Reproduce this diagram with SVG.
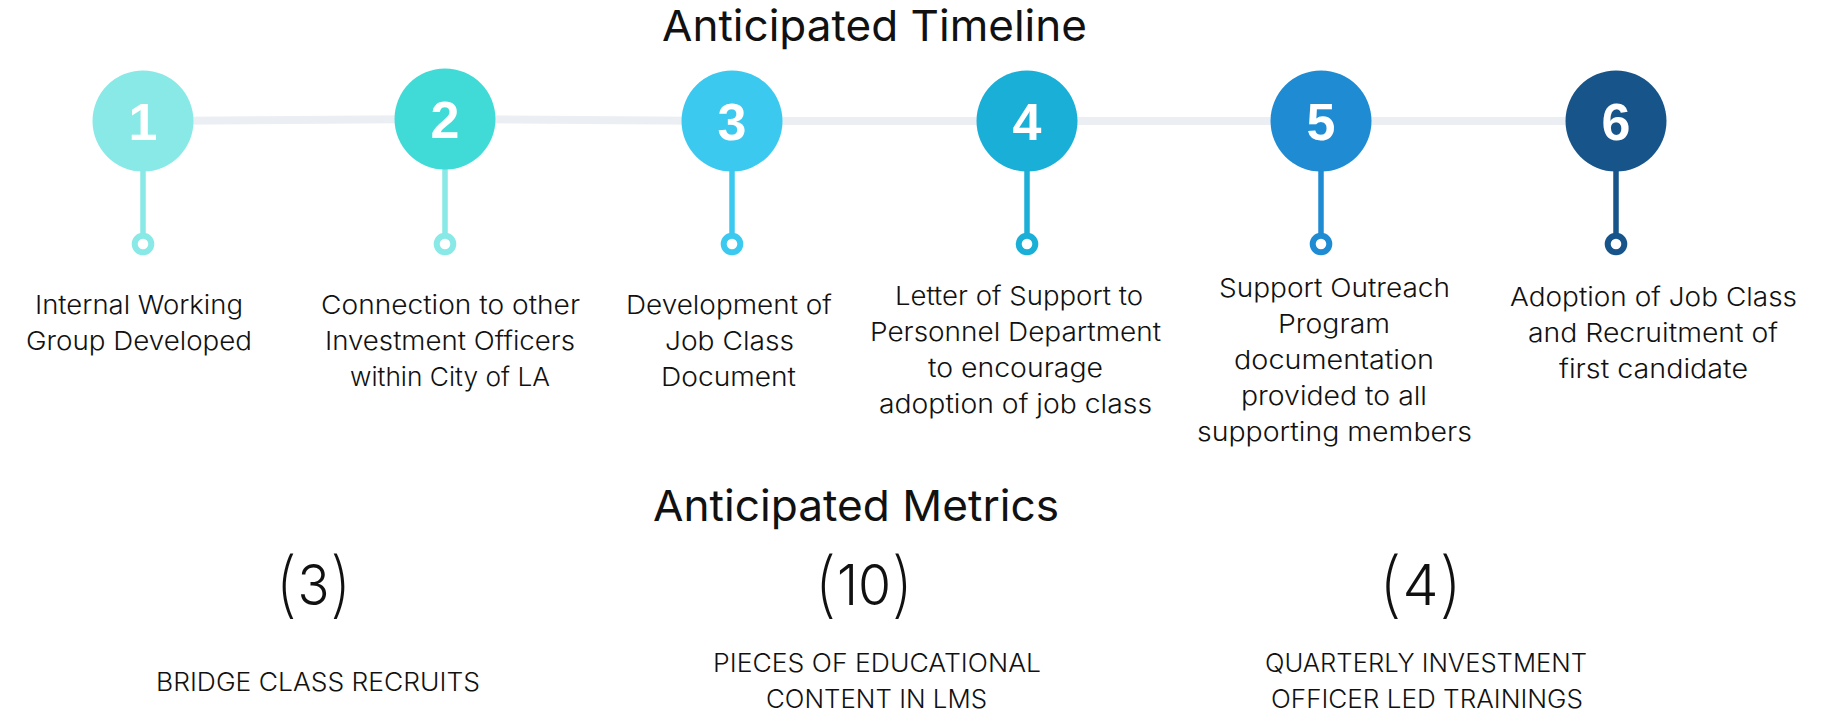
<svg xmlns="http://www.w3.org/2000/svg" width="1829" height="716" viewBox="0 0 1829 716">
  <style>
    .title { font-family: Inter, "Open Sans", "Liberation Sans", sans-serif; font-size: 43px; font-weight: 400; fill: #111111; }
    .num { font-family: "Liberation Sans", Arial, sans-serif; font-size: 52px; font-weight: 700; fill: #ffffff; text-anchor: middle; }
    .lbl { font-family: Inter, "Open Sans", "Liberation Sans", sans-serif; font-size: 26px; font-weight: 300; fill: #111111; }
    .metric { font-family: Inter, "Open Sans", "Liberation Sans", sans-serif; font-size: 56px; font-weight: 300; fill: #111111; }
    .metric .paren { font-size: 72px; font-weight: 200; }
    .mlbl { font-family: Inter, "Open Sans", "Liberation Sans", sans-serif; font-size: 25px; font-weight: 300; fill: #111111; }
    .track { fill: none; stroke: #ebeff3; stroke-width: 8; stroke-linejoin: round; }
    .stem { stroke-width: 5.5; }
    .ring { fill: #ffffff; stroke-width: 6; }
  </style>

  <text class="title" x="662" y="41" textLength="425" lengthAdjust="spacingAndGlyphs">Anticipated Timeline</text>

  <!-- timeline track behind the step circles -->
  <g id="connectors">
    <polyline class="track" points="143,121 445,119 732,121 1027,121 1321,121 1616,121"/>
  </g>

  <g id="step-1">
    <line class="stem" x1="143" y1="168" x2="143" y2="236" stroke="#88e9e6"/>
    <circle class="ring" cx="143" cy="244" r="8.3" stroke="#88e9e6"/>
    <circle cx="143" cy="121" r="50.5" fill="#88e9e6"/>
    <text class="num" x="143" y="139.5">1</text>
    <text class="lbl" x="35" y="314" textLength="208" lengthAdjust="spacingAndGlyphs">Internal Working</text>
    <text class="lbl" x="26" y="350" textLength="226" lengthAdjust="spacingAndGlyphs">Group Developed</text>
  </g>

  <g id="step-2">
    <line class="stem" x1="445" y1="166" x2="445" y2="236" stroke="#88e9e6"/>
    <circle class="ring" cx="445" cy="244" r="8.3" stroke="#88e9e6"/>
    <circle cx="445" cy="119" r="50.5" fill="#40dbd6"/>
    <text class="num" x="445" y="137.5">2</text>
    <text class="lbl" x="321" y="314" textLength="259" lengthAdjust="spacingAndGlyphs">Connection to other</text>
    <text class="lbl" x="325" y="350" textLength="250" lengthAdjust="spacingAndGlyphs">Investment Officers</text>
    <text class="lbl" x="350" y="386" textLength="200" lengthAdjust="spacingAndGlyphs">within City of LA</text>
  </g>

  <g id="step-3">
    <line class="stem" x1="732" y1="168" x2="732" y2="236" stroke="#3cc9f0"/>
    <circle class="ring" cx="732" cy="244" r="8.3" stroke="#3cc9f0"/>
    <circle cx="732" cy="121" r="50.5" fill="#3cc9f0"/>
    <text class="num" x="732" y="139.5">3</text>
    <text class="lbl" x="626" y="314" textLength="206" lengthAdjust="spacingAndGlyphs">Development of</text>
    <text class="lbl" x="665" y="350" textLength="129" lengthAdjust="spacingAndGlyphs">Job Class</text>
    <text class="lbl" x="661" y="386" textLength="135" lengthAdjust="spacingAndGlyphs">Document</text>
  </g>

  <g id="step-4">
    <line class="stem" x1="1027" y1="168" x2="1027" y2="236" stroke="#1aafd7"/>
    <circle class="ring" cx="1027" cy="244" r="8.3" stroke="#1aafd7"/>
    <circle cx="1027" cy="121" r="50.5" fill="#1aafd7"/>
    <text class="num" x="1027" y="139.5">4</text>
    <text class="lbl" x="895" y="305" textLength="248" lengthAdjust="spacingAndGlyphs">Letter of Support to</text>
    <text class="lbl" x="870" y="341" textLength="291" lengthAdjust="spacingAndGlyphs">Personnel Department</text>
    <text class="lbl" x="928" y="377" textLength="175" lengthAdjust="spacingAndGlyphs">to encourage</text>
    <text class="lbl" x="879" y="413" textLength="273" lengthAdjust="spacingAndGlyphs">adoption of job class</text>
  </g>

  <g id="step-5">
    <line class="stem" x1="1321" y1="168" x2="1321" y2="236" stroke="#1e8bd3"/>
    <circle class="ring" cx="1321" cy="244" r="8.3" stroke="#1e8bd3"/>
    <circle cx="1321" cy="121" r="50.5" fill="#1e8bd3"/>
    <text class="num" x="1321" y="139.5">5</text>
    <text class="lbl" x="1219" y="297" textLength="231" lengthAdjust="spacingAndGlyphs">Support Outreach</text>
    <text class="lbl" x="1278" y="333" textLength="112" lengthAdjust="spacingAndGlyphs">Program</text>
    <text class="lbl" x="1234" y="369" textLength="200" lengthAdjust="spacingAndGlyphs">documentation</text>
    <text class="lbl" x="1241" y="405" textLength="186" lengthAdjust="spacingAndGlyphs">provided to all</text>
    <text class="lbl" x="1197" y="441" textLength="275" lengthAdjust="spacingAndGlyphs">supporting members</text>
  </g>

  <g id="step-6">
    <line class="stem" x1="1616" y1="168" x2="1616" y2="236" stroke="#165489"/>
    <circle class="ring" cx="1616" cy="244" r="8.3" stroke="#165489"/>
    <circle cx="1616" cy="121" r="50.5" fill="#165489"/>
    <text class="num" x="1616" y="139.5">6</text>
    <text class="lbl" x="1510" y="306" textLength="287" lengthAdjust="spacingAndGlyphs">Adoption of Job Class</text>
    <text class="lbl" x="1528" y="342" textLength="250" lengthAdjust="spacingAndGlyphs">and Recruitment of</text>
    <text class="lbl" x="1559" y="378" textLength="189" lengthAdjust="spacingAndGlyphs">first candidate</text>
  </g>

  <text class="title" x="653" y="521" textLength="406" lengthAdjust="spacingAndGlyphs">Anticipated Metrics</text>

  <g id="metric-recruits">
    <text class="metric" x="275" y="605" textLength="77" lengthAdjust="spacingAndGlyphs"><tspan class="paren" dy="4">(</tspan><tspan dy="-4">3</tspan><tspan class="paren" dy="4">)</tspan></text>
    <text class="mlbl" x="156" y="691" textLength="324" lengthAdjust="spacingAndGlyphs">BRIDGE CLASS RECRUITS</text>
  </g>

  <g id="metric-content">
    <text class="metric" x="814" y="605" textLength="100" lengthAdjust="spacingAndGlyphs"><tspan class="paren" dy="4">(</tspan><tspan dy="-4">10</tspan><tspan class="paren" dy="4">)</tspan></text>
    <text class="mlbl" x="713" y="672" textLength="328" lengthAdjust="spacingAndGlyphs">PIECES OF EDUCATIONAL</text>
    <text class="mlbl" x="766" y="708" textLength="221" lengthAdjust="spacingAndGlyphs">CONTENT IN LMS</text>
  </g>

  <g id="metric-trainings">
    <text class="metric" x="1378" y="605" textLength="85" lengthAdjust="spacingAndGlyphs"><tspan class="paren" dy="4">(</tspan><tspan dy="-4">4</tspan><tspan class="paren" dy="4">)</tspan></text>
    <text class="mlbl" x="1265" y="672" textLength="322" lengthAdjust="spacingAndGlyphs">QUARTERLY INVESTMENT</text>
    <text class="mlbl" x="1271" y="708" textLength="312" lengthAdjust="spacingAndGlyphs">OFFICER LED TRAININGS</text>
  </g>
</svg>
